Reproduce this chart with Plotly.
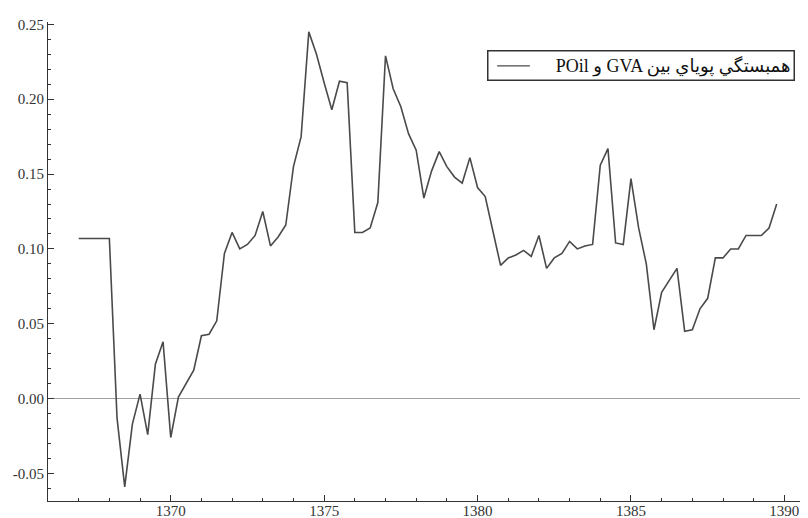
import plotly.graph_objects as go

# Quarterly periods (Iranian calendar years, quarter fractions)
periods = [
    1367.00, 1367.25, 1367.50, 1367.75,
    1368.00, 1368.25, 1368.50, 1368.75,
    1369.00, 1369.25, 1369.50, 1369.75,
    1370.00, 1370.25, 1370.50, 1370.75,
    1371.00, 1371.25, 1371.50, 1371.75,
    1372.00, 1372.25, 1372.50, 1372.75,
    1373.00, 1373.25, 1373.50, 1373.75,
    1374.00, 1374.25, 1374.50, 1374.75,
    1375.00, 1375.25, 1375.50, 1375.75,
    1376.00, 1376.25, 1376.50, 1376.75,
    1377.00, 1377.25, 1377.50, 1377.75,
    1378.00, 1378.25, 1378.50, 1378.75,
    1379.00, 1379.25, 1379.50, 1379.75,
    1380.00, 1380.25, 1380.50, 1380.75,
    1381.00, 1381.25, 1381.50, 1381.75,
    1382.00, 1382.25, 1382.50, 1382.75,
    1383.00, 1383.25, 1383.50, 1383.75,
    1384.00, 1384.25, 1384.50, 1384.75,
    1385.00, 1385.25, 1385.50, 1385.75,
    1386.00, 1386.25, 1386.50, 1386.75,
    1387.00, 1387.25, 1387.50, 1387.75,
    1388.00, 1388.25, 1388.50, 1388.75,
    1389.00, 1389.25, 1389.50, 1389.75,
]

dcc_corr = [
    0.107, 0.107, 0.107, 0.107,
    0.107, -0.013, -0.059, -0.017,
    0.003, -0.024, 0.023, 0.038,
    -0.026, 0.001, 0.010, 0.019,
    0.042, 0.043, 0.052, 0.097,
    0.111, 0.100, 0.103, 0.109,
    0.125, 0.102, 0.108, 0.116,
    0.155, 0.175, 0.245, 0.230,
    0.211, 0.193, 0.212, 0.211,
    0.111, 0.111, 0.114, 0.131,
    0.229, 0.207, 0.195, 0.177,
    0.166, 0.134, 0.152, 0.165,
    0.155, 0.148, 0.144, 0.161,
    0.141, 0.135, 0.112, 0.089,
    0.094, 0.096, 0.099, 0.095,
    0.109, 0.087, 0.094, 0.097,
    0.105, 0.100, 0.102, 0.103,
    0.156, 0.167, 0.104, 0.103,
    0.147, 0.114, 0.090, 0.046,
    0.071, 0.079, 0.087, 0.045,
    0.046, 0.060, 0.067, 0.094,
    0.094, 0.100, 0.100, 0.109,
    0.109, 0.109, 0.114, 0.130,
]

# legend text, written in display order for a left-to-right text run
series_name = "POil و GVA همبستگي پوياي بين"

x_tickvals = [1370, 1375, 1380, 1385, 1390]
y_tickvals = [-0.05, 0.00, 0.05, 0.10, 0.15, 0.20, 0.25]
y_ticktext = ["-0.05", "0.00", "0.05", "0.10", "0.15", "0.20", "0.25"]

FONT = "Liberation Serif, DejaVu Sans, serif"
LINE_COLOR = "#4a4a4a"
AXIS_COLOR = "#333333"

fig = go.Figure()
fig.add_trace(go.Scatter(
    x=periods, y=dcc_corr, mode="lines", name=series_name,
    line=dict(color=LINE_COLOR, width=1.6),
    showlegend=False,
))

# Legend box (drawn as a bordered annotation plus a line sample)
fig.add_annotation(
    xref="paper", yref="paper", x=0.983, y=0.9415,
    xanchor="right", yanchor="top",
    text=series_name, showarrow=False,
    width=299, align="right",
    font=dict(family=FONT, size=18, color="#111111"),
    bordercolor="#333333", borderwidth=1.5, borderpad=3,
    bgcolor="rgba(255,255,255,0)",
)
fig.add_shape(
    type="line", xref="paper", yref="paper",
    x0=0.591, x1=0.634, y0=0.9085, y1=0.9085,
    line=dict(color=LINE_COLOR, width=1.4),
)

fig.update_layout(
    width=800, height=510,
    margin=dict(l=40, r=0, t=14, b=17, autoexpand=False),
    paper_bgcolor="white", plot_bgcolor="white",
    font=dict(family=FONT, size=15, color=AXIS_COLOR),
    showlegend=False,
    xaxis=dict(
        range=[1366.0, 1390.77],
        automargin=False,
        tickmode="array", tickvals=x_tickvals,
        ticks="inside", ticklen=6, tickwidth=1, tickcolor=AXIS_COLOR,
        minor=dict(dtick=1, tick0=1366, ticks="inside", ticklen=3, tickwidth=1, tickcolor=AXIS_COLOR),
        showline=True, linecolor=AXIS_COLOR, linewidth=1.2,
        showgrid=False, zeroline=False,
        ticklabelstandoff=-4,
        tickfont=dict(family=FONT, size=15, color=AXIS_COLOR),
    ),
    yaxis=dict(
        range=[-0.0684, 0.2516],
        automargin=False,
        tickmode="array", tickvals=y_tickvals, ticktext=y_ticktext,
        ticks="inside", ticklen=6, tickwidth=1, tickcolor=AXIS_COLOR,
        minor=dict(dtick=0.01, tick0=0, ticks="inside", ticklen=3, tickwidth=1, tickcolor=AXIS_COLOR),
        showline=True, linecolor=AXIS_COLOR, linewidth=1.2,
        showgrid=False,
        zeroline=True, zerolinecolor="#a0a0a0", zerolinewidth=1.2,
        tickfont=dict(family=FONT, size=15, color=AXIS_COLOR),
    ),
)

fig.write_html("out.html")
